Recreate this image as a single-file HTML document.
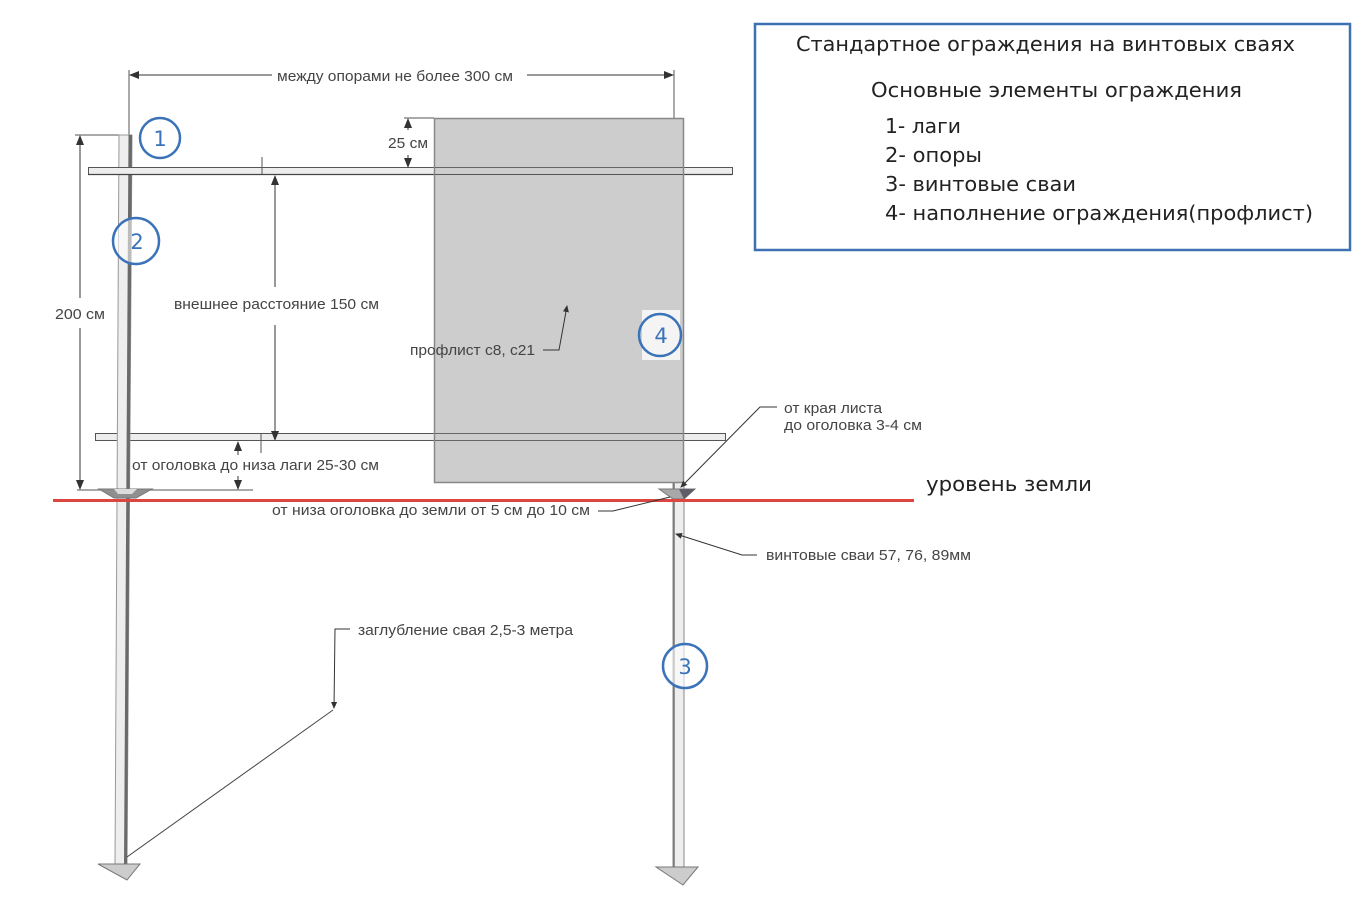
<!DOCTYPE html>
<html><head><meta charset="utf-8"><style>
html,body{margin:0;padding:0;background:#fff;}
svg{display:block;}
.t{font-family:"Liberation Sans",Arial,sans-serif;font-size:15px;fill:#444;}
.b{font-family:"DejaVu Sans","Liberation Sans",sans-serif;font-size:20px;fill:#222;}
.n{font-family:"DejaVu Sans","Liberation Sans",sans-serif;font-size:21px;fill:#3b73b9;text-anchor:middle;}
</style></head><body>
<svg width="1372" height="912" viewBox="0 0 1372 912" xmlns="http://www.w3.org/2000/svg">
<defs>
<marker id="ah" markerWidth="10" markerHeight="8" refX="9" refY="4" orient="auto" markerUnits="userSpaceOnUse">
<path d="M0,0 L10,4 L0,8 z" fill="#333"/>
</marker>
<marker id="as" markerWidth="7" markerHeight="6" refX="6" refY="3" orient="auto" markerUnits="userSpaceOnUse">
<path d="M0,0 L7,3 L0,6 z" fill="#333"/>
</marker>
</defs>

<!-- Top dimension -->
<line x1="129" y1="70" x2="129" y2="135" stroke="#555" stroke-width="1"/>
<line x1="674" y1="70" x2="674" y2="118" stroke="#555" stroke-width="1"/>
<line x1="272" y1="75" x2="130" y2="75" stroke="#333" stroke-width="1" marker-end="url(#ah)"/>
<line x1="527" y1="75" x2="673" y2="75" stroke="#333" stroke-width="1" marker-end="url(#ah)"/>
<text class="t" x="277" y="81" textLength="236" lengthAdjust="spacingAndGlyphs">между опорами не более 300 см</text>

<!-- 200 dimension -->
<line x1="75" y1="135" x2="120" y2="135" stroke="#555" stroke-width="1"/>
<line x1="77" y1="490" x2="253" y2="490" stroke="#555" stroke-width="1"/>
<line x1="80" y1="298" x2="80" y2="136" stroke="#333" stroke-width="1" marker-end="url(#ah)"/>
<line x1="80" y1="328" x2="80" y2="489" stroke="#333" stroke-width="1" marker-end="url(#ah)"/>
<text class="t" x="55" y="319" textLength="50" lengthAdjust="spacingAndGlyphs">200 см</text>

<!-- Lower rail (behind pole) -->
<rect x="95.5" y="433.5" width="630" height="7" fill="#ededed" stroke="#555" stroke-width="1"/>

<!-- Left pole -->
<polygon points="119,135 132,135 127,866 115,866" fill="#eeeeee" stroke="#999" stroke-width="1"/>
<polygon points="128.5,135 132,135 127,866 124,866" fill="#6a6a6a"/>

<!-- Upper rail -->
<rect x="88.5" y="167.5" width="644" height="7" fill="#ededed" stroke="#555" stroke-width="1"/>
<line x1="88" y1="174.5" x2="732" y2="174.5" stroke="#444" stroke-width="1.2"/>

<!-- Right pile -->
<rect x="673" y="482" width="11" height="385" fill="#eeeeee" stroke="#888" stroke-width="1"/>
<line x1="674" y1="482" x2="674" y2="867" stroke="#777" stroke-width="1.5"/>

<!-- Profile sheet -->
<rect x="434.5" y="118.5" width="249" height="364" fill="#cbcbcb" fill-opacity="0.97" stroke="#888" stroke-width="1.5"/>
<line x1="435" y1="167.5" x2="683" y2="167.5" stroke="#666" stroke-width="1"/>
<line x1="435" y1="174.5" x2="683" y2="174.5" stroke="#555" stroke-width="1"/>
<line x1="435" y1="433.5" x2="683" y2="433.5" stroke="#666" stroke-width="1"/>
<line x1="435" y1="440.5" x2="683" y2="440.5" stroke="#666" stroke-width="1"/>

<!-- 25 cm dim -->
<line x1="404" y1="118" x2="434" y2="118" stroke="#555" stroke-width="1"/>
<line x1="408" y1="130" x2="408" y2="119" stroke="#333" stroke-width="1" marker-end="url(#ah)"/>
<line x1="408" y1="155" x2="408" y2="167" stroke="#333" stroke-width="1" marker-end="url(#ah)"/>
<text class="t" x="388" y="148" textLength="40" lengthAdjust="spacingAndGlyphs">25 см</text>

<!-- 150 dim -->
<line x1="262" y1="157" x2="262" y2="174" stroke="#555" stroke-width="1"/>
<line x1="261" y1="433" x2="261" y2="453" stroke="#555" stroke-width="1"/>
<line x1="275" y1="287" x2="275" y2="176" stroke="#333" stroke-width="1" marker-end="url(#ah)"/>
<line x1="275" y1="325" x2="275" y2="440" stroke="#333" stroke-width="1" marker-end="url(#ah)"/>
<text class="t" x="174" y="309" textLength="205" lengthAdjust="spacingAndGlyphs">внешнее расстояние 150 см</text>

<!-- 25-30 dim -->
<line x1="238" y1="455" x2="238" y2="442" stroke="#333" stroke-width="1" marker-end="url(#ah)"/>
<line x1="238" y1="476" x2="238" y2="489" stroke="#333" stroke-width="1" marker-end="url(#ah)"/>
<text class="t" x="132" y="470" textLength="247" lengthAdjust="spacingAndGlyphs">от оголовка до низа лаги 25-30 см</text>

<!-- Flanges -->
<polygon points="99,489 152,489 136,498 114,498" fill="#8f8f8f" stroke="#777" stroke-width="1"/>
<polygon points="114,489 137,489 132,494 118,494" fill="#dcdcdc"/>
<polygon points="659,489 695,489 684,499 673,499" fill="#a8a8a8" stroke="#777" stroke-width="1"/>
<polygon points="679,489 695,489 684,499" fill="#5e5e6a"/>

<!-- Ground line -->
<line x1="53" y1="500.5" x2="914" y2="500.5" stroke="#db4740" stroke-width="3"/>
<text class="b" x="926" y="491" font-size="22" textLength="166" lengthAdjust="spacingAndGlyphs">уровень земли</text>

<!-- Pile tips -->
<polygon points="98,864 140,864 127,880" fill="#cccccc" stroke="#777" stroke-width="1"/>
<polygon points="656,867 698,867 683,885" fill="#cccccc" stroke="#777" stroke-width="1"/>

<!-- Leaders -->
<polyline points="543,350 559,350 567,306" fill="none" stroke="#333" stroke-width="1" marker-end="url(#as)"/>
<text class="t" x="410" y="355" textLength="125" lengthAdjust="spacingAndGlyphs">профлист с8, с21</text>

<polyline points="777,407 760,407 681,487" fill="none" stroke="#333" stroke-width="1" marker-end="url(#as)"/>
<text class="t" x="784" y="413" textLength="98" lengthAdjust="spacingAndGlyphs">от края листа</text>
<text class="t" x="784" y="430" textLength="138" lengthAdjust="spacingAndGlyphs">до оголовка 3-4 см</text>

<polyline points="598,511 613,511 670,497" fill="none" stroke="#333" stroke-width="1"/>
<text class="t" x="272" y="515" textLength="318" lengthAdjust="spacingAndGlyphs">от низа оголовка до земли  от 5 см до 10 см</text>

<polyline points="757,555 742,555 676,534" fill="none" stroke="#333" stroke-width="1" marker-end="url(#as)"/>
<text class="t" x="766" y="560" textLength="205" lengthAdjust="spacingAndGlyphs">винтовые сваи 57, 76, 89мм</text>

<polyline points="350,629 335,629 334,708" fill="none" stroke="#333" stroke-width="1" marker-end="url(#as)"/>
<line x1="333" y1="710" x2="127" y2="857" stroke="#444" stroke-width="1"/>
<text class="t" x="358" y="635" textLength="215" lengthAdjust="spacingAndGlyphs">заглубление свая 2,5-3 метра</text>

<!-- Number circles -->
<rect x="642" y="310" width="38" height="50" fill="#f4f4f4"/>
<circle cx="160" cy="138" r="20" fill="#fff" fill-opacity="0.6" stroke="#3b73b9" stroke-width="2.5"/>
<text class="n" x="160" y="146">1</text>
<circle cx="136" cy="241" r="23" fill="#fff" fill-opacity="0.55" stroke="#3b73b9" stroke-width="2.5"/>
<text class="n" x="137" y="249">2</text>
<circle cx="660" cy="335" r="21" fill="none" stroke="#3b73b9" stroke-width="2.5"/>
<text class="n" x="661" y="343">4</text>
<circle cx="685" cy="666" r="22" fill="#fff" fill-opacity="0.6" stroke="#3b73b9" stroke-width="2.5"/>
<text class="n" x="685" y="674">3</text>

<!-- Legend box -->
<rect x="755" y="24" width="595" height="226" fill="#fff" stroke="#3e70b4" stroke-width="2.5"/>
<text class="b" x="796" y="51" textLength="499" lengthAdjust="spacingAndGlyphs">Стандартное ограждения на винтовых сваях</text>
<text class="b" x="871" y="97" textLength="371" lengthAdjust="spacingAndGlyphs">Основные элементы ограждения</text>
<text class="b" x="885" y="133" textLength="76" lengthAdjust="spacingAndGlyphs">1- лаги</text>
<text class="b" x="885" y="162" textLength="97" lengthAdjust="spacingAndGlyphs">2- опоры</text>
<text class="b" x="885" y="191" textLength="191" lengthAdjust="spacingAndGlyphs">3- винтовые сваи</text>
<text class="b" x="885" y="220" textLength="428" lengthAdjust="spacingAndGlyphs">4- наполнение ограждения(профлист)</text>
</svg>
</body></html>
